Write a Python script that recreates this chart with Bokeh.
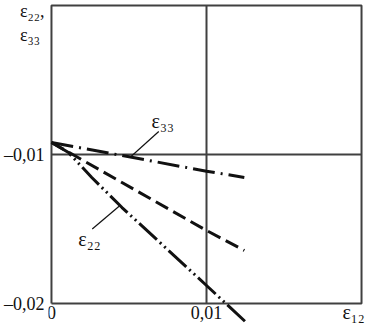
from bokeh.plotting import figure
from bokeh.models import Label, FixedTicker, Range1d
from bokeh.embed import file_html
from bokeh.resources import INLINE

# --- data ---
e33_x = [0.0, 0.0100, 0.01244]
e33_y = [-0.00919, -0.01112, -0.01154]

dash_x = [0.0, 0.0100, 0.01244]
dash_y = [-0.00919, -0.01510, -0.01644]

e22_x = [0.0, 0.0011, 0.0026, 0.00455, 0.0100, 0.01256]
e22_y = [-0.00919, -0.00987, -0.01154, -0.01356, -0.01879, -0.02127]

x_ticks = [0.0, 0.01]
x_tick_labels = {0.0: "0", 0.01: "0,01"}
y_ticks = [-0.01, -0.02, -0.00107]
y_tick_labels = {-0.01: "\u20130,01", -0.02: "\u20130,02",
                 -0.00107: "\u03b5\u2082\u2082,\n\u03b5\u2083\u2083 "}

box_x = [0.0, 0.02]
box_y = [-0.02, 0.0]
cross_x = 0.01
cross_y = -0.01

FONT = "Liberation Serif"
INK = "#111111"
FRAME = "#404040"

p = figure(width=366, height=327, output_backend="svg", toolbar_location=None,
           x_range=Range1d(-0.000192, 0.020321), y_range=Range1d(-0.02161, 0.000336),
           min_border_left=46, min_border_right=0, min_border_top=0, min_border_bottom=0)
p.outline_line_color = None
p.xgrid.visible = False
p.ygrid.visible = False
p.background_fill_color = "white"

# y axis (left)
p.yaxis.ticker = FixedTicker(ticks=y_ticks)
p.yaxis.major_label_overrides = y_tick_labels
p.yaxis.axis_line_color = None
p.yaxis.major_tick_line_color = None
p.yaxis.minor_tick_line_color = None
p.yaxis.major_tick_out = 0
p.yaxis.major_tick_in = 0
p.yaxis.major_label_standoff = 4
p.yaxis.major_label_text_font = FONT
p.yaxis.major_label_text_font_size = "18px"
p.yaxis.major_label_text_color = INK

# x axis placed on the box bottom
p.xaxis.fixed_location = -0.02
p.xaxis.ticker = FixedTicker(ticks=x_ticks)
p.xaxis.major_label_overrides = x_tick_labels
p.xaxis.axis_line_color = None
p.xaxis.major_tick_line_color = None
p.xaxis.minor_tick_line_color = None
p.xaxis.major_tick_out = 0
p.xaxis.major_tick_in = 0
p.xaxis.major_label_standoff = 2
p.xaxis.major_label_text_font = FONT
p.xaxis.major_label_text_font_size = "18px"
p.xaxis.major_label_text_color = INK

# frame box and cross lines
p.multi_line(xs=[[box_x[0], box_x[1], box_x[1], box_x[0], box_x[0]],
                 [cross_x, cross_x],
                 [box_x[0], box_x[1]]],
             ys=[[box_y[0], box_y[0], box_y[1], box_y[1], box_y[0]],
                 [box_y[0], box_y[1]],
                 [cross_y, cross_y]],
             line_color=FRAME, line_width=2)

# data lines
p.line(dash_x, dash_y, line_color=INK, line_width=3, line_dash="14 6")
p.line(e33_x, e33_y, line_color=INK, line_width=3, line_dash="22 6 2 6")
p.line(e22_x, e22_y, line_color=INK, line_width=3, line_dash="24 4 2 4 2 4")

# leader lines
p.segment(x0=[0.00692, 0.00263], y0=[-0.00846, -0.0150],
          x1=[0.00506, 0.00442], y1=[-0.0102, -0.01342],
          line_color=INK, line_width=1.2)

def lab(x, y, t, size="20px", align="center"):
    p.add_layout(Label(x=x, y=y, text=t, text_font=FONT, text_font_size=size,
                       text_color=INK, text_align=align, text_baseline="middle"))

lab(0.00718, -0.00775, "\u03b5\u2083\u2083")
lab(0.00245, -0.01570, "\u03b5\u2082\u2082")
lab(0.01949, -0.0206, "\u03b5\u2081\u2082")

open("out.html", "w").write(file_html(p, INLINE))
